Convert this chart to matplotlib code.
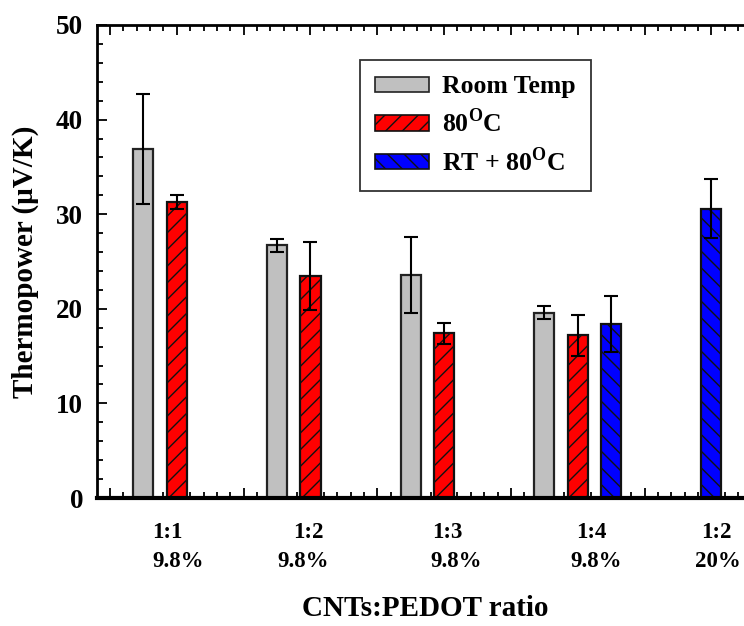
import matplotlib
matplotlib.use("Agg")
import matplotlib.pyplot as plt
from matplotlib.patches import Patch
from matplotlib.ticker import MultipleLocator

plt.rcParams['font.family'] = ['Liberation Serif', 'DejaVu Serif']
plt.rcParams['font.weight'] = 'bold'
plt.rcParams['mathtext.fontset'] = 'custom'
plt.rcParams['mathtext.rm'] = 'Liberation Serif:bold'
plt.rcParams['mathtext.bf'] = 'Liberation Serif:bold'
plt.rcParams['hatch.linewidth'] = 1.0

# data
series_names = ['Room Temp', r'80$^{\mathrm{O}}$C', r'RT + 80$^{\mathrm{O}}$C']
rt_pos = [0.5, 2.5, 4.5, 6.5]
rt_vals = [36.9, 26.7, 23.6, 19.6]
rt_err = [5.8, 0.7, 4.0, 0.7]
h80_pos = [1.0, 3.0, 5.0, 7.0]
h80_vals = [31.3, 23.5, 17.4, 17.2]
h80_err = [0.7, 3.6, 1.1, 2.15]
both_pos = [7.5, 9.0]
both_vals = [18.4, 30.6]
both_err = [3.0, 3.1]
ratio_labels = ['1:1', '1:2', '1:3', '1:4', '1:2']
ratio_x = [0.855, 2.97, 5.055, 7.2, 9.075]
conc_labels = ['9.8%', '9.8%', '9.8%', '9.8%', '20%']
conc_x = [1.0125, 2.895, 5.175, 7.275, 9.09]

fig = plt.figure(figsize=(7.44, 6.26), dpi=100)
ax = fig.add_axes([97/744, 1 - 498/626, 1 - 97/744 + 0.002, (498 - 25)/626])

w = 0.3
ekw = dict(ecolor='black', elinewidth=1.5, capsize=4.7, capthick=1.5)
ax.bar(rt_pos, rt_vals, w, yerr=rt_err, color='#c0c0c0', edgecolor='#222222',
       linewidth=1.6, error_kw=ekw, zorder=2)
ax.bar(h80_pos, h80_vals, w, yerr=h80_err, color='#ff0000', edgecolor='#111111',
       linewidth=1.6, hatch='//', error_kw=ekw, zorder=2)
ax.bar(both_pos, both_vals, w, yerr=both_err, color='#0000ff', edgecolor='#111111',
       linewidth=1.6, hatch='\\\\', error_kw=ekw, zorder=2)

ax.set_ylim(0, 50)
ax.set_xlim(-0.195, 9.51)
ax.yaxis.set_major_locator(MultipleLocator(10))
ax.yaxis.set_minor_locator(MultipleLocator(2))
ax.xaxis.set_major_locator(MultipleLocator(1))
ax.xaxis.set_minor_locator(MultipleLocator(0.2))
ax.tick_params(axis='both', which='both', direction='in', top=True, right=False,
               width=1.3)
ax.tick_params(axis='both', which='major', length=7)
ax.tick_params(axis='both', which='minor', length=4)
ax.tick_params(axis='y', labelsize=19.5, pad=10)
ax.tick_params(axis='x', labelbottom=False)
for lab in ax.get_yticklabels():
    lab.set_fontweight('bold')
ax.spines['right'].set_visible(False)
ax.spines['left'].set_linewidth(2)
ax.spines['top'].set_linewidth(2)
ax.spines['bottom'].set_linewidth(3)

ax.set_ylabel('Thermopower (μV/K)', fontsize=21, fontweight='bold', labelpad=12)

trans = ax.get_xaxis_transform()
for x, t in zip(ratio_x, ratio_labels):
    ax.text(x, -0.0846, t, transform=trans, ha='center', va='baseline',
            fontsize=16.5, fontweight='bold')
for x, t in zip(conc_x, conc_labels):
    ax.text(x, -0.1459, t, transform=trans, ha='center', va='baseline',
            fontsize=16.5, fontweight='bold')
ax.text(0.5066, -0.2495, 'CNTs:PEDOT ratio', transform=ax.transAxes, ha='center',
        va='baseline', fontsize=21, fontweight='bold')

handles = [Patch(facecolor='#c0c0c0', edgecolor='#222222', linewidth=1.2),
           Patch(facecolor='#ff0000', edgecolor='#111111', linewidth=1.2, hatch='//'),
           Patch(facecolor='#0000ff', edgecolor='#111111', linewidth=1.2, hatch='\\\\')]
leg = ax.legend(handles, series_names, loc='upper left',
                bbox_to_anchor=((360 - 97) / 648.5, (498 - 60) / 473),
                borderaxespad=0,
                prop={'size': 18.5, 'weight': 'bold'}, frameon=True, fancybox=False,
                edgecolor='black', handlelength=2.1, handleheight=0.55,
                labelspacing=0.39, borderpad=0.6, handletextpad=0.5)
leg.get_frame().set_linewidth(1.3)

fig.savefig('out.png', dpi=100)
